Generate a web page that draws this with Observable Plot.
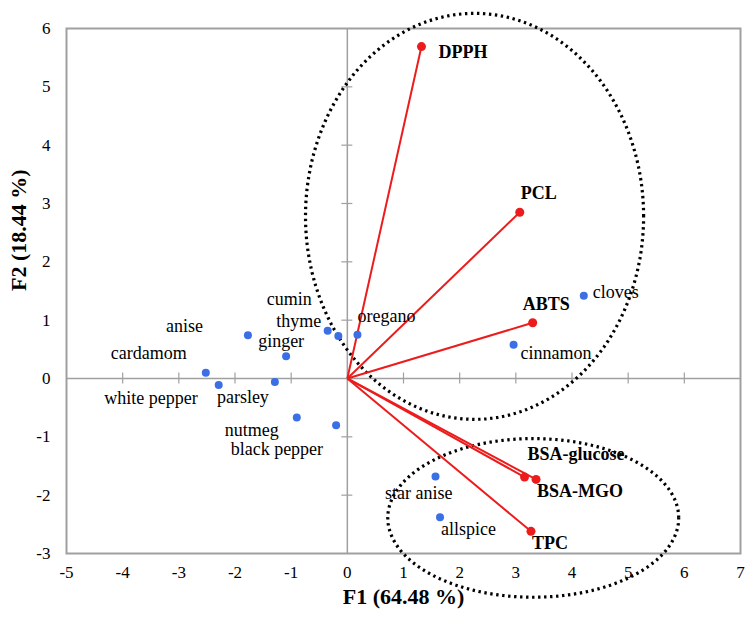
<!DOCTYPE html>
<html>
<head>
<meta charset="utf-8">
<script src="https://cdn.jsdelivr.net/npm/d3@7"></script>
<script src="https://cdn.jsdelivr.net/npm/@observablehq/plot@0.6"></script>
<style>
  html, body { margin: 0; padding: 0; background: #fff; }
  #chart svg { display: block; }
  #chart svg text { font-family: "Liberation Serif", "Times New Roman", serif; }
</style>
</head>
<body>
<div id="chart"></div>
<script>
// ---- Data ----
const spiceNames = ["cloves","cinnamon","oregano","thyme","cumin","anise","ginger","cardamom","white pepper","parsley","nutmeg","black pepper","star anise","allspice"];
const spiceF1    = [4.21, 2.96, 0.18, -0.16, -0.35, -1.77, -1.09, -2.52, -2.29, -1.29, -0.90, -0.20, 1.57, 1.65];
const spiceF2    = [1.42, 0.58, 0.75, 0.73, 0.82, 0.74, 0.38, 0.10, -0.11, -0.06, -0.67, -0.80, -1.68, -2.38];

const varNames = ["DPPH","PCL","ABTS","BSA-glucose","BSA-MGO","TPC"];
const varF1    = [1.32, 3.07, 3.30, 3.155, 3.36, 3.27];
const varF2    = [5.69, 2.85, 0.955, -1.69, -1.73, -2.62];

const xTicks = [-5,-4,-3,-2,-1,0,1,2,3,4,5,6,7];
const yTicks = [-3,-2,-1,0,1,2,3,4,5,6];
const xTitle = "F1 (64.48 %)";
const yTitle = "F2 (18.44 %)";

// Grouping ellipses (centre F1, centre F2, radius F1, radius F2)
const ellipseCX = [2.265, 3.31];
const ellipseCY = [2.78, -2.39];
const ellipseRX = [3.01, 2.59];
const ellipseRY = [3.48, 1.36];

// ---- Label placement (pixel offsets from the point) ----
const labelPlace = {
  "cloves":       {dx: 9,   dy: -3,  a: "start"},
  "cinnamon":     {dx: 7,   dy: 9,   a: "start"},
  "oregano":      {dx: 0,   dy: -19, a: "start"},
  "thyme":        {dx: -17, dy: -15, a: "end"},
  "cumin":        {dx: -16, dy: -31, a: "end"},
  "anise":        {dx: -45, dy: -9,  a: "end"},
  "ginger":       {dx: -5,  dy: -15, a: "middle"},
  "cardamom":     {dx: -19, dy: -19, a: "end"},
  "white pepper": {dx: -21, dy: 13,  a: "end"},
  "parsley":      {dx: -6,  dy: 15,  a: "end"},
  "nutmeg":       {dx: -18, dy: 13,  a: "end"},
  "black pepper": {dx: -13, dy: 24,  a: "end"},
  "star anise":   {dx: 17,  dy: 17,  a: "end"},
  "allspice":     {dx: 1,   dy: 12,  a: "start"},
  "DPPH":         {dx: 17,  dy: 6,   a: "start"},
  "PCL":          {dx: 1,   dy: -19, a: "start"},
  "ABTS":         {dx: -10, dy: -19, a: "start"},
  "BSA-glucose":  {dx: 3,   dy: -23, a: "start"},
  "BSA-MGO":      {dx: 1,   dy: 12,  a: "start"},
  "TPC":          {dx: 1,   dy: 12,  a: "start"}
};

const spices = spiceNames.map((name, i) => ({name, x: spiceF1[i], y: spiceF2[i]}));
const vars = varNames.map((name, i) => ({name, x: varF1[i], y: varF2[i]}));

const ellipses = [];
ellipseCX.forEach((cx, k) => {
  d3.range(0, 361, 2).forEach(a => {
    const t = a * Math.PI / 180;
    ellipses.push({k, x: cx + ellipseRX[k] * Math.cos(t), y: ellipseCY[k] + ellipseRY[k] * Math.sin(t)});
  });
});

const FONT = "'Liberation Serif', 'Times New Roman', serif";
const RED = "#ec1c1c";
const BLUE = "#3b6fe6";
const GRAY = "#a0a0a0";

function labelMarks(data, weight) {
  return ["start", "middle", "end"].map(anchor =>
    data.filter(d => labelPlace[d.name].a === anchor).map(d =>
      Plot.text([d], {
        x: "x", y: "y", text: "name",
        dx: labelPlace[d.name].dx, dy: labelPlace[d.name].dy,
        textAnchor: anchor, fontSize: 18, fontWeight: weight, fill: "#000", fontFamily: FONT
      })
    )
  ).flat();
}

const chart = Plot.plot({
  width: 751,
  height: 625,
  marginLeft: 66,
  marginRight: 11,
  marginTop: 28,
  marginBottom: 72,
  style: {fontFamily: FONT, background: "#fff", overflow: "visible"},
  x: {domain: [-5, 7], axis: null},
  y: {domain: [-3, 6], axis: null},
  marks: [
    Plot.ruleX([0], {stroke: GRAY, strokeWidth: 1.5}),
    Plot.ruleY([0], {stroke: GRAY, strokeWidth: 1.5}),
    Plot.ruleX(xTicks.filter(d => d !== 0 && d !== -5 && d !== 7), {x: d => d, y1: 0, y2: 0, insetTop: -5.5, insetBottom: -5.5, stroke: GRAY, strokeWidth: 1.2}),
    Plot.ruleY(yTicks.filter(d => d !== 0 && d !== -3 && d !== 6), {y: d => d, x1: 0, x2: 0, insetLeft: -5.5, insetRight: -5.5, stroke: GRAY, strokeWidth: 1.2}),
    Plot.frame({stroke: GRAY, strokeWidth: 2}),
    Plot.text(xTicks, {x: d => d, frameAnchor: "bottom", dy: 24, text: d => String(d), fontSize: 17, fill: "#000", fontFamily: FONT}),
    Plot.text(yTicks, {y: d => d, frameAnchor: "left", dx: -16, textAnchor: "end", text: d => String(d), fontSize: 17, fill: "#000", fontFamily: FONT}),
    Plot.text([xTitle], {frameAnchor: "bottom", dy: 50, text: d => d, fontSize: 22, fontWeight: "bold", fill: "#000", fontFamily: FONT}),
    Plot.text([yTitle], {frameAnchor: "left", dx: -48, rotate: -90, text: d => d, fontSize: 22, fontWeight: "bold", fill: "#000", fontFamily: FONT}),
    Plot.line(ellipses, {x: "x", y: "y", z: "k", stroke: "#000", strokeWidth: 3.2, strokeDasharray: "2.4,3.6", strokeLinecap: "butt", curve: "linear"}),
    Plot.link(vars, {x1: () => 0, y1: () => 0, x2: "x", y2: "y", stroke: RED, strokeWidth: 2}),
    Plot.dot(vars, {x: "x", y: "y", r: 4.5, fill: RED}),
    Plot.dot(spices, {x: "x", y: "y", r: 4, fill: BLUE}),
    ...labelMarks(spices, "normal"),
    ...labelMarks(vars, "bold")
  ]
});

document.getElementById("chart").appendChild(chart);
</script>
</body>
</html>
